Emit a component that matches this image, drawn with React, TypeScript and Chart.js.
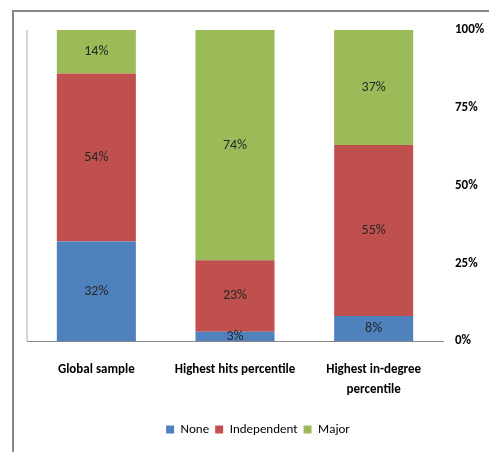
import React, { useEffect, useRef } from "react";
import { Chart, registerables } from "chart.js";

Chart.register(...registerables);

const categories: (string | string[])[] = ["Global sample", "Highest hits percentile", ["Highest in-degree", "percentile"]];
const noneValues = [32, 3, 8];
const independentValues = [54, 23, 55];
const majorValues = [14, 74, 37];
const yTicks = [0, 25, 50, 75, 100];

const FONT = "Carlito, 'Liberation Sans Narrow', 'DejaVu Sans Condensed', sans-serif";

const framePlugin = {
  id: "frame",
  beforeDraw(chart: any) {
    const ctx = chart.ctx;
    const a = chart.chartArea;
    ctx.save();
    ctx.fillStyle = "#ffffff";
    ctx.fillRect(0, 0, chart.width, chart.height);
    ctx.strokeStyle = "#878787";
    ctx.lineWidth = 2;
    ctx.beginPath();
    ctx.moveTo(13, chart.height + 5);
    ctx.lineTo(13, 11);
    ctx.lineTo(chart.width + 5, 11);
    ctx.stroke();
    ctx.strokeStyle = "#d4d4d4";
    ctx.lineWidth = 2;
    ctx.beginPath();
    ctx.moveTo(a.left, a.top);
    ctx.lineTo(a.left, a.bottom);
    ctx.stroke();
    ctx.restore();
  },
};

const labelPlugin = {
  id: "segLabels",
  afterDatasetsDraw(chart: any) {
    const ctx = chart.ctx;
    ctx.save();
    ctx.font = `14px ${FONT}`;
    ctx.fillStyle = "#262626";
    ctx.textAlign = "center";
    ctx.textBaseline = "middle";
    chart.data.datasets.forEach((ds: any, i: number) => {
      const meta = chart.getDatasetMeta(i);
      meta.data.forEach((bar: any, j: number) => {
        const v = ds.data[j];
        const yc = (bar.y + bar.base) / 2;
        ctx.fillText(`${v}%`, bar.x, yc);
      });
    });
    ctx.restore();
  },
};

export default function App() {
  const ref = useRef<HTMLCanvasElement>(null);
  useEffect(() => {
    if (!ref.current) return;
    const chart = new Chart(ref.current, {
      type: "bar",
      data: {
        labels: categories,
        datasets: [
          { label: "None", data: noneValues, backgroundColor: "#4F81BD" },
          { label: "Independent", data: independentValues, backgroundColor: "#C0504D" },
          { label: "Major", data: majorValues, backgroundColor: "#9BBB59" },
        ],
      },
      options: {
        animation: false,
        responsive: false,
        layout: { padding: { left: 27, top: 30, right: 0, bottom: 6 } },
        datasets: { bar: { categoryPercentage: 1, barPercentage: 0.57 } },
        scales: {
          x: {
            stacked: true,
            grid: { display: false, drawTicks: false },
            border: { display: true, color: "#868686", width: 1 },
            ticks: {
              padding: 18,
              color: "#000000",
              maxRotation: 0,
              autoSkip: false,
              font: { family: FONT, size: 13, weight: "bold", lineHeight: 1.6 },
            },
            afterFit: (s: any) => {
              s.height = 76;
            },
          },
          y: {
            stacked: true,
            position: "right",
            min: 0,
            max: 100,
            grid: { display: false, drawTicks: false },
            border: { display: false },
            afterBuildTicks: (s: any) => {
              s.ticks = yTicks.map((v) => ({ value: v }));
            },
            ticks: {
              padding: 12,
              crossAlign: "near",
              color: "#000000",
              font: { family: FONT, size: 13, weight: "bold" },
              callback: (v: any) => `${v}%`,
            },
            afterFit: (s: any) => {
              s.width = 46;
            },
          },
        },
        plugins: {
          legend: {
            position: "bottom",
            labels: {
              boxWidth: 8,
              boxHeight: 8,
              padding: 6,
              color: "#000000",
              font: { family: FONT, size: 13 },
            },
          },
          tooltip: { enabled: false },
        },
      },
      plugins: [framePlugin, labelPlugin],
    });
    return () => chart.destroy();
  }, []);
  return (
    <div style={{ position: "absolute", left: 0, top: 0, width: 489, height: 452 }}>
      <canvas ref={ref} width={489} height={452} style={{ display: "block" }} />
    </div>
  );
}
